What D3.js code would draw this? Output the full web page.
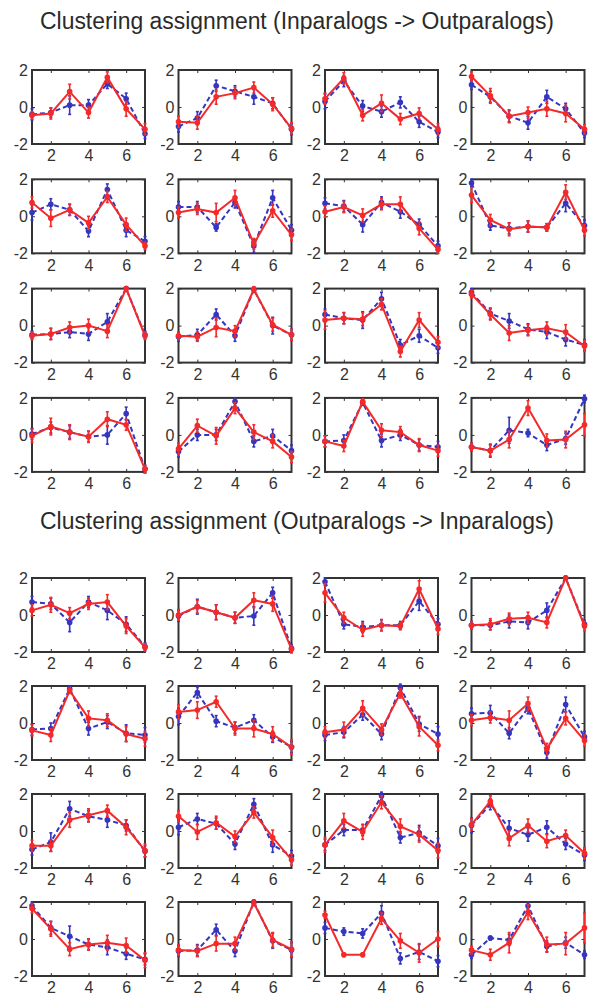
<!DOCTYPE html>
<html><head><meta charset="utf-8">
<script src="https://cdn.jsdelivr.net/npm/d3@7"></script>
<style>body{margin:0;background:#fff}svg{display:block}</style>
</head><body><svg id="c" width="600" height="1008"></svg>
<script>
const titles = ["Clustering assignment (Inparalogs -> Outparalogs)", "Clustering assignment (Outparalogs -> Inparalogs)"];
const xValues = [1, 2, 3, 4, 5, 6, 7];
const xTicks = [2, 4, 6];
const yTicks = [-2, 0, 2];

const topRed = [
  [-0.45,-0.35,0.83,-0.3,1.6,-0.1,-1.2],
  [-0.8,-0.85,0.55,0.75,1.05,0.15,-1.15],
  [0.45,1.55,-0.45,0.2,-0.65,-0.35,-1.2],
  [1.65,0.6,-0.5,-0.3,-0.1,-0.35,-1.2],
  [0.75,-0.1,0.35,-0.35,1.05,-0.45,-1.6],
  [0.2,0.4,0.2,1.0,-1.5,0.3,-1.0],
  [0.25,0.5,0.05,0.65,0.65,-0.65,-1.8],
  [1.15,-0.2,-0.7,-0.55,-0.6,1.3,-0.75],
  [-0.55,-0.45,-0.1,0.0,-0.3,2.0,-0.55],
  [-0.55,-0.6,-0.1,-0.3,1.95,0.05,-0.5],
  [0.3,0.4,0.35,1.15,-1.4,0.3,-0.9],
  [1.7,0.6,-0.4,-0.25,-0.15,-0.35,-1.1],
  [-0.05,0.45,0.15,-0.1,0.85,0.55,-1.85],
  [-0.75,0.5,-0.05,1.45,0.15,-0.35,-1.2],
  [-0.35,-0.6,1.8,0.25,0.15,-0.55,-0.85],
  [-0.65,-0.85,-0.25,1.45,-0.3,-0.25,0.55]
];
const topBlue = [
  [-0.4,-0.3,0.1,0.1,1.25,0.45,-1.45],
  [-1.05,-0.6,1.15,0.85,0.55,0.2,-1.2],
  [0.3,1.4,0.05,-0.25,0.25,-0.8,-1.35],
  [1.2,0.55,-0.5,-0.85,0.55,-0.1,-1.4],
  [0.2,0.65,0.35,-0.8,1.45,-0.75,-1.35],
  [0.5,0.5,-0.6,0.75,-1.6,1.0,-0.75],
  [0.7,0.55,-0.45,0.75,0.25,-0.45,-1.6],
  [1.8,-0.5,-0.65,-0.55,-0.6,0.7,-0.5],
  [-0.5,-0.45,-0.35,-0.45,0.2,2.0,-0.5],
  [-0.6,-0.5,0.6,-0.55,1.95,0.0,-0.5],
  [0.6,0.4,0.3,1.45,-1.05,-0.55,-1.2],
  [1.8,0.65,0.25,-0.2,-0.35,-0.75,-1.05],
  [0.05,0.4,0.15,-0.1,0.0,1.15,-1.85],
  [-0.9,0.0,0.0,1.8,-0.35,-0.05,-0.85],
  [-0.35,-0.3,1.75,-0.3,0.0,-0.55,-0.65],
  [-0.65,-0.85,0.25,0.1,-0.55,-0.2,1.95]
];
const bottomRed = [
  [0.25,0.55,0.1,0.6,0.7,-0.6,-1.75],
  [0.0,0.45,0.15,-0.15,0.8,0.6,-1.85],
  [1.2,-0.15,-0.8,-0.55,-0.6,1.4,-0.75],
  [-0.55,-0.5,-0.2,-0.15,-0.4,2.0,-0.6],
  [-0.4,-0.65,1.75,0.25,0.15,-0.6,-0.85],
  [0.6,0.7,1.15,-0.3,-0.3,-0.6,-1.3],
  [-0.5,-0.35,0.8,-0.35,1.6,-0.2,-1.2],
  [0.15,0.3,0.15,1.05,-1.4,0.25,-0.95],
  [-0.8,-0.8,0.6,0.85,1.1,0.2,-1.05],
  [0.8,-0.05,0.45,-0.3,1.0,-0.35,-1.55],
  [-0.75,0.55,-0.05,1.55,0.25,-0.2,-1.05],
  [0.35,1.6,-0.4,0.3,-0.55,-0.25,-1.2],
  [1.65,0.55,-0.55,-0.3,-0.2,-0.35,-1.15],
  [-0.6,-0.65,-0.25,-0.25,1.95,-0.05,-0.55],
  [1.3,-0.85,-0.85,1.1,-0.1,-0.75,0.0],
  [-0.6,-0.85,-0.2,1.45,-0.3,-0.25,0.6]
];
const bottomBlue = [
  [0.7,0.6,-0.4,0.7,0.25,-0.5,-1.7],
  [-0.05,0.45,0.15,-0.15,-0.05,1.2,-1.8],
  [1.8,-0.5,-0.65,-0.55,-0.55,0.75,-0.5],
  [-0.55,-0.55,-0.35,-0.4,0.25,2.0,-0.5],
  [-0.35,-0.3,1.85,-0.3,0.05,-0.55,-0.65],
  [0.35,1.65,0.1,-0.25,0.15,-0.75,-1.3],
  [-0.65,-0.5,0.45,-0.6,1.9,-0.05,-0.6],
  [0.5,0.55,-0.55,0.8,-1.6,1.0,-0.75],
  [-1.0,-0.6,1.2,0.8,0.6,0.3,-1.1],
  [0.2,0.65,0.4,-0.7,1.45,-0.75,-1.35],
  [-0.75,0.05,0.05,1.9,-0.35,-0.1,-0.8],
  [0.3,1.45,0.15,-0.2,0.2,-0.7,-1.3],
  [1.8,0.6,0.15,-0.3,-0.45,-0.8,-1.1],
  [-0.65,-0.6,0.5,-0.65,2.0,-0.1,-0.6],
  [0.6,0.4,0.3,1.4,-1.05,-0.7,-1.2],
  [-0.85,0.05,-0.05,1.8,-0.4,-0.2,-0.85]
];
// error bar half-lengths (estimated)
const topRedErr = [
  [0.2,0.3,0.4,0.3,0.3,0.4,0.3],[0.3,0.35,0.4,0.3,0.3,0.35,0.3],[0.3,0.3,0.3,0.45,0.3,0.3,0.3],[0.25,0.4,0.35,0.3,0.4,0.45,0.25],
  [0.3,0.45,0.3,0.35,0.3,0.35,0.2],[0.3,0.3,0.5,0.4,0.3,0.35,0.3],[0.3,0.3,0.35,0.3,0.4,0.35,0.2],[0.4,0.3,0.35,0.3,0.2,0.4,0.3],
  [0.2,0.3,0.3,0.35,0.35,0.1,0.2],[0.2,0.25,0.5,0.3,0.15,0.35,0.3],[0.5,0.3,0.35,0.3,0.3,0.4,0.3],[0.2,0.3,0.4,0.3,0.35,0.4,0.3],
  [0.35,0.45,0.4,0.3,0.4,0.3,0.2],[0.3,0.35,0.45,0.3,0.4,0.35,0.3],[0.3,0.3,0.15,0.35,0.3,0.35,0.3],[0.2,0.3,0.45,0.4,0.35,0.45,0.6]
];
const topBlueErr = [
  [0.3,0.25,0.5,0.3,0.25,0.3,0.25],[0.3,0.35,0.3,0.3,0.4,0.3,0.3],[0.4,0.3,0.3,0.3,0.3,0.3,0.3],[0.25,0.3,0.3,0.35,0.35,0.3,0.25],
  [0.4,0.3,0.3,0.3,0.3,0.35,0.25],[0.3,0.3,0.2,0.3,0.35,0.4,0.3],[0.3,0.3,0.4,0.3,0.35,0.3,0.25],[0.2,0.25,0.3,0.3,0.2,0.45,0.3],
  [0.2,0.3,0.3,0.35,0.45,0.1,0.2],[0.25,0.3,0.3,0.3,0.15,0.45,0.3],[0.3,0.3,0.45,0.35,0.3,0.35,0.3],[0.2,0.3,0.4,0.3,0.35,0.35,0.3],
  [0.3,0.3,0.35,0.3,0.5,0.35,0.2],[0.3,0.3,0.3,0.2,0.3,0.35,0.3],[0.3,0.3,0.15,0.35,0.3,0.3,0.3],[0.2,0.35,0.7,0.2,0.3,0.3,0.2]
];
const bottomRedErr = [
  [0.3,0.4,0.3,0.3,0.4,0.4,0.2],[0.3,0.35,0.4,0.3,0.4,0.4,0.2],[0.5,0.3,0.35,0.3,0.2,0.45,0.3],[0.2,0.3,0.3,0.3,0.3,0.1,0.25],
  [0.3,0.35,0.15,0.4,0.35,0.4,0.4],[0.4,0.45,0.3,0.35,0.45,0.4,0.4],[0.3,0.4,0.4,0.3,0.25,0.5,0.3],[0.3,0.3,0.5,0.35,0.3,0.35,0.3],
  [0.3,0.3,0.4,0.35,0.3,0.4,0.35],[0.3,0.4,0.35,0.3,0.3,0.4,0.3],[0.4,0.4,0.4,0.35,0.4,0.4,0.4],[0.3,0.3,0.4,0.35,0.35,0.3,0.3],
  [0.25,0.4,0.35,0.3,0.4,0.4,0.4],[0.3,0.3,0.4,0.35,0.15,0.4,0.4],[0.2,0.1,0.1,0.3,0.4,0.5,0.4],[0.2,0.3,0.55,0.4,0.4,0.6,0.8]
];
const bottomBlueErr = [
  [0.3,0.3,0.5,0.3,0.5,0.4,0.2],[0.3,0.4,0.4,0.3,0.5,0.3,0.2],[0.2,0.25,0.3,0.3,0.2,0.5,0.3],[0.2,0.25,0.35,0.35,0.4,0.1,0.2],
  [0.3,0.3,0.15,0.35,0.35,0.45,0.4],[0.45,0.3,0.3,0.3,0.3,0.3,0.3],[0.3,0.3,0.3,0.3,0.2,0.4,0.4],[0.3,0.4,0.3,0.3,0.3,0.4,0.3],
  [0.3,0.5,0.4,0.3,0.4,0.3,0.3],[0.4,0.3,0.3,0.3,0.3,0.4,0.3],[0.3,0.3,0.3,0.2,0.3,0.4,0.4],[0.4,0.3,0.4,0.35,0.35,0.3,0.3],
  [0.2,0.35,0.55,0.3,0.4,0.3,0.3],[0.3,0.3,0.3,0.3,0.1,0.4,0.4],[0.3,0.2,0.25,0.4,0.3,0.4,0.3],[0.2,0.1,0.3,0.2,0.3,0.3,0.2]
];

const sections = [
  {title: titles[0], red: topRed, blue: topBlue, redErr: topRedErr, blueErr: topBlueErr, titleY: 21, rowTop: 70, rowStep: 109.3},
  {title: titles[1], red: bottomRed, blue: bottomBlue, redErr: bottomRedErr, blueErr: bottomBlueErr, titleY: 521, rowTop: 578, rowStep: 108}
];

const svg = d3.select("#c");
const colX0 = 32, colStep = 146.5, pw = 113, ph = 74;
const RED = "#f42a2a", BLUE = "#3535bf", AXIS = "#333";
const FONT = "'Liberation Sans', Arial, Helvetica, sans-serif";

sections.forEach(sec => {
  svg.append("text")
    .attr("x", 297).attr("y", sec.titleY)
    .attr("text-anchor", "middle").attr("dominant-baseline", "central")
    .attr("font-family", FONT).attr("font-size", 23).attr("fill", "#2a2a2a")
    .attr("textLength", 514).attr("lengthAdjust", "spacingAndGlyphs")
    .text(sec.title);

  for (let i = 0; i < 16; i++) {
    const row = Math.floor(i / 4), col = i % 4;
    const g = svg.append("g").attr("transform", `translate(${colX0 + col * colStep},${sec.rowTop + row * sec.rowStep})`);
    const x = d3.scaleLinear().domain([1, 7]).range([0, pw]);
    const y = d3.scaleLinear().domain([-2, 2]).range([ph, 0]);

    const ax = (gen, tr, labels) => {
      const a = g.append("g").attr("transform", tr).call(gen);
      a.select(".domain").remove();
      a.selectAll("line").attr("stroke", AXIS).attr("stroke-width", 1);
      a.selectAll("text").attr("font-family", FONT).attr("font-size", 16).attr("fill", "#333");
      if (!labels) a.selectAll("text").remove();
      return a;
    };
    ax(d3.axisBottom(x).tickValues(xTicks).tickSize(-3).tickPadding(6).tickFormat(d3.format("d")), `translate(0,${ph})`, true);
    ax(d3.axisTop(x).tickValues(xTicks).tickSize(-3).tickFormat(""), `translate(0,0)`, false);
    ax(d3.axisLeft(y).tickValues(yTicks).tickSize(-3).tickPadding(4).tickFormat(d => String(d)), `translate(0,0)`, true);
    ax(d3.axisRight(y).tickValues(yTicks).tickSize(-3).tickFormat(""), `translate(${pw},0)`, false);

    g.append("rect").attr("x", 0).attr("y", 0).attr("width", pw).attr("height", ph)
      .attr("fill", "none").attr("stroke", AXIS).attr("stroke-width", 2);

    const drawSeries = (vals, errs, color, dash) => {
      const pts = xValues.map((xv, k) => ({x: xv, v: vals[k], e: errs[k]}));
      const eg = g.append("g").attr("stroke", color).attr("stroke-width", 1.6);
      pts.forEach(p => {
        eg.append("line").attr("x1", x(p.x)).attr("x2", x(p.x)).attr("y1", y(p.v - p.e)).attr("y2", y(p.v + p.e));
        [p.v - p.e, p.v + p.e].forEach(c => eg.append("line").attr("x1", x(p.x) - 1.5).attr("x2", x(p.x) + 1.5).attr("y1", y(c)).attr("y2", y(c)));
      });
      g.append("path").datum(pts)
        .attr("d", d3.line().x(p => x(p.x)).y(p => y(p.v)))
        .attr("fill", "none").attr("stroke", color).attr("stroke-width", 2)
        .attr("stroke-dasharray", dash ? "5,3" : null);
      g.append("g").selectAll("circle").data(pts).join("circle")
        .attr("cx", p => x(p.x)).attr("cy", p => y(p.v)).attr("r", 2.8).attr("fill", color);
    };
    drawSeries(sec.blue[i], sec.blueErr[i], BLUE, true);
    drawSeries(sec.red[i], sec.redErr[i], RED, false);
  }
});
</script>
</body></html>
